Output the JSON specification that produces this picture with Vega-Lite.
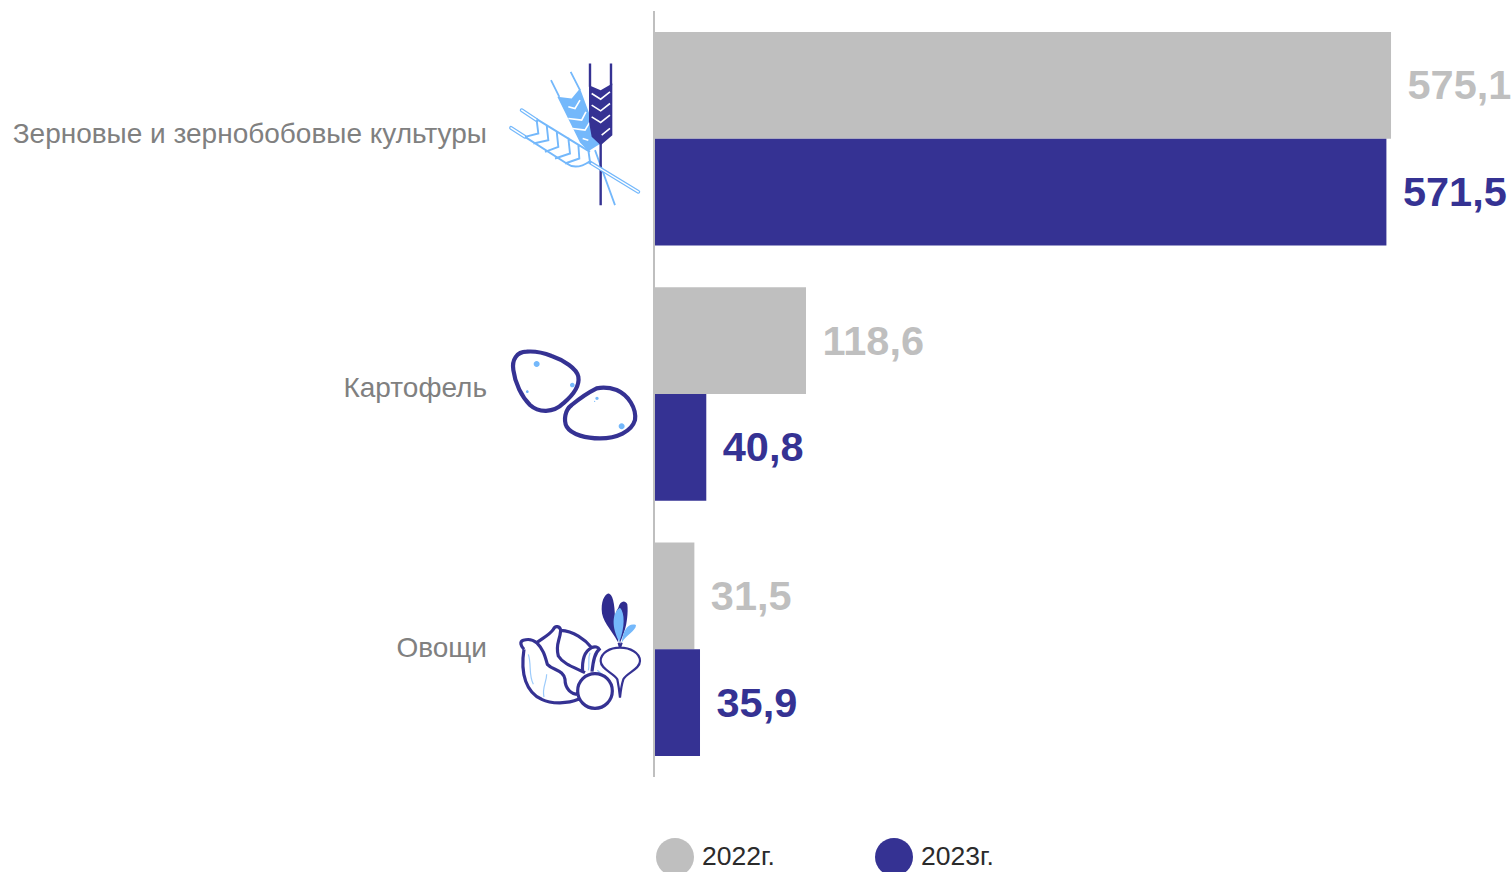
{
"$schema":"https://vega.github.io/schema/vega-lite/v6.json",
"width":858,"height":766,
"autosize":{"type":"none"},
"padding":{"left":654,"top":11,"right":0,"bottom":95},
"background":"white",
"config":{"view":{"stroke":null},"font":"Liberation Sans","locale":{"number":{"decimal":",","thousands":" ","grouping":[3],"currency":["",""]}}},
"datasets":{
"vals":[
{"crop":"Зерновые и зернобобовые культуры","year":"2022г.","value":575.1},
{"crop":"Зерновые и зернобобовые культуры","year":"2023г.","value":571.5},
{"crop":"Картофель","year":"2022г.","value":118.6},
{"crop":"Картофель","year":"2023г.","value":40.8},
{"crop":"Овощи","year":"2022г.","value":31.5},
{"crop":"Овощи","year":"2023г.","value":35.9}],
"wheat":[{"crop":"Зерновые и зернобобовые культуры"}],
"potato":[{"crop":"Картофель"}],
"veg":[{"crop":"Овощи"}]
},
"data":{"name":"vals"},
"layer":[
{"mark":{"type":"bar","cornerRadius":0},
"encoding":{
"x":{"field":"value","type":"quantitative","scale":{"domain":[0,669.5],"nice":false,"zero":true},"axis":null},
"y":{"field":"crop","type":"nominal","sort":null,"scale":{"domain":["Зерновые и зернобобовые культуры","Картофель","Овощи"],"paddingInner":0.164,"paddingOuter":0.082},
"axis":{"title":null,"domain":true,"domainColor":"#BFBFBF","domainWidth":2,"translate":0,"ticks":false,"labelPadding":167,"labelFontSize":28,"labelColor":"#808080","labelFont":"Liberation Sans","labelLimit":700,"zindex":1,"labelOffset":{"condition":[{"test":"datum.value==='Картофель'","value":-5},{"test":"datum.value==='Овощи'","value":0}],"value":-3}}},
"yOffset":{"field":"year","type":"nominal","scale":{"paddingInner":0,"paddingOuter":0}},
"color":{"field":"year","type":"nominal","scale":{"domain":["2022г.","2023г."],"range":["#BFBFBF","#353293"]},
"legend":{"title":null,"orient":"none","legendX":2,"legendY":827,"direction":"horizontal","symbolType":"circle","symbolSize":1444,"symbolStrokeWidth":0,"labelFontSize":26.5,"labelColor":"#2B2B2B","labelFont":"Liberation Sans","columnPadding":100,"labelOffset":8,"padding":0}}
}},
{"mark":{"type":"text","align":"left","baseline":"middle","dx":16.5,"dy":2,"fontSize":41.5,"fontWeight":"bold","font":"Liberation Sans"},
"encoding":{
"x":{"field":"value","type":"quantitative"},
"y":{"field":"crop","type":"nominal","sort":null},
"yOffset":{"field":"year","type":"nominal"},
"text":{"field":"value","type":"quantitative","format":".1f"},
"color":{"field":"year","type":"nominal"}
}},
{"data":{"name":"wheat"},"encoding":{"x":{"datum":0,"type":"quantitative"},"y":{"field":"crop","type":"nominal","sort":null}},
"layer":[
{"mark":{"type":"point","opacity":1,"filled":false,"stroke":"#74B8FB","strokeWidth":1.8,"size":0.4444,"xOffset":-154,"yOffset":-83.5,"shape":"M153 75L178 125M212 50L240 105M285 285L345 450"}},
{"mark":{"type":"point","opacity":1,"filled":true,"fill":"#74B8FB","stroke":null,"size":0.4444,"xOffset":-154,"yOffset":-83.5,"shape":"M172 125L215 130L240 100L290 235L302 265L265 288L240 262Z"}},
{"mark":{"type":"point","opacity":1,"filled":false,"stroke":"#FFFFFF","strokeWidth":1.6,"size":0.4444,"xOffset":-154,"yOffset":-83.5,"shape":"M205 155L225 160L240 135M205 190L245 195L258 170M218 220L255 225L270 200M248 250L265 255"}},
{"mark":{"type":"point","opacity":1,"filled":false,"stroke":"#353293","strokeWidth":2.4,"size":0.4444,"xOffset":-154,"yOffset":-83.5,"shape":"M270 25L270 95M333 25L333 90M302 265L302 450"}},
{"mark":{"type":"point","opacity":1,"filled":true,"fill":"#353293","stroke":null,"size":0.4444,"xOffset":-154,"yOffset":-83.5,"shape":"M267 90L302 105L337 85L337 240L302 270L275 245L267 200Z"}},
{"mark":{"type":"point","opacity":1,"filled":false,"stroke":"#FFFFFF","strokeWidth":1.6,"size":0.4444,"xOffset":-154,"yOffset":-83.5,"shape":"M275 115L302 132L330 110M275 150L302 167L330 145M275 185L302 202L330 180M305 240L330 220"}},
{"mark":{"type":"point","opacity":1,"filled":false,"stroke":"#74B8FB","strokeWidth":3.8,"strokeCap":"round","size":0.4444,"xOffset":-154,"yOffset":-83.5,"shape":"M65 165L110 195M33 218L75 245M270 322L415 410"}},
{"mark":{"type":"point","opacity":1,"filled":false,"stroke":"#FFFFFF","strokeWidth":1.4,"strokeCap":"round","size":0.4444,"xOffset":-154,"yOffset":-83.5,"shape":"M65 165L110 195M33 218L75 245M275 325L415 410"}},
{"mark":{"type":"point","opacity":1,"filled":false,"stroke":"#74B8FB","strokeWidth":1.9,"size":0.4444,"xOffset":-154,"yOffset":-83.5,"shape":"M110 192L270 290M75 245L200 325C220 340 245 335 270 318M110 195L115 235L75 245M140 210L145 255L100 265M170 228L175 275L135 290M205 248L210 295L165 310M235 268L238 310L195 325M265 285L270 320"}}
]},
{"data":{"name":"potato"},"encoding":{"x":{"datum":0,"type":"quantitative"},"y":{"field":"crop","type":"nominal","sort":null}},
"layer":[
{"mark":{"type":"point","opacity":1,"filled":false,"stroke":"#353293","strokeWidth":4.2,"size":0.4444,"xOffset":-154,"yOffset":-54,"shape":"M80 35C50 35 35 60 40 90C45 130 65 170 90 195C115 218 160 220 190 190C220 165 240 140 235 110C230 85 190 60 155 48C130 38 105 33 80 35ZM290 145C270 155 245 170 215 195C195 210 190 240 200 260C215 285 260 295 300 295C350 295 395 275 405 240C410 205 385 165 350 150C330 143 305 142 290 145Z"}},
{"mark":{"type":"point","opacity":1,"filled":true,"fill":"#74B8FB","stroke":null,"size":0.4444,"xOffset":-154,"yOffset":-54,"shape":"M101 72a9 9 0 1 0 18 0a9 9 0 1 0 -18 0ZM210 135a7 7 0 1 0 14 0a7 7 0 1 0 -14 0ZM78 155a4 4 0 1 0 8 0a4 4 0 1 0 -8 0ZM286 175a5 5 0 1 0 10 0a5 5 0 1 0 -10 0ZM282 184a2 2 0 1 0 4 0a2 2 0 1 0 -4 0ZM356 259a9 9 0 1 0 18 0a9 9 0 1 0 -18 0Z"}}
]},
{"data":{"name":"veg"},"encoding":{"x":{"datum":0,"type":"quantitative"},"y":{"field":"crop","type":"nominal","sort":null}},
"layer":[
{"mark":{"type":"point","opacity":1,"filled":false,"stroke":"#9CCBFB","strokeWidth":1.2,"size":0.4444,"xOffset":-144,"yOffset":-65,"shape":"M55 210C65 240 55 270 70 300M110 270C110 295 95 310 102 338M240 205C232 225 240 240 235 258M262 258L300 290"}},
{"mark":{"type":"point","opacity":1,"filled":false,"stroke":"#353293","strokeWidth":3.2,"size":0.4444,"xOffset":-144,"yOffset":-65,"shape":"M42 195C32 185 28 172 40 168C55 163 70 167 80 175C100 160 118 152 130 135C135 122 150 125 152 138C190 140 225 165 245 190C255 185 265 188 268 195C255 205 250 225 246 262M42 195C30 270 50 325 95 345C125 360 175 358 205 345M80 175C100 195 105 215 112 240C130 260 160 255 165 285C165 315 185 330 205 330M152 138C150 170 135 180 145 215C160 240 195 250 225 265M245 190C225 200 215 225 218 265M203 320a52 52 0 1 0 104 0a52 52 0 1 0 -104 0Z"}},
{"mark":{"type":"point","opacity":1,"filled":false,"stroke":"#353293","strokeWidth":2.2,"size":0.4444,"xOffset":-144,"yOffset":-65,"shape":"M330 190C300 190 272 205 272 230C272 255 310 265 322 285C325 300 328 320 330 340C332 320 335 300 340 285C350 265 390 255 390 230C390 205 360 190 330 190ZM326 175L330 190M335 175L330 190"}},
{"mark":{"type":"point","opacity":1,"filled":true,"fill":"#2F2C8F","stroke":null,"size":0.4444,"xOffset":-144,"yOffset":-65,"shape":"M325 175C300 130 275 110 275 75C275 40 290 25 298 28C312 35 315 75 315 110C315 135 325 155 325 175ZM330 175C315 130 310 90 325 70C330 50 345 45 352 60C355 85 350 120 345 135C340 150 335 165 330 175Z"}},
{"mark":{"type":"point","opacity":1,"filled":true,"fill":"#74B8FB","stroke":null,"size":0.4444,"xOffset":-144,"yOffset":-65,"shape":"M328 172C305 130 305 85 330 70C345 85 345 130 328 172ZM335 175C340 135 355 115 378 122C378 140 350 150 335 175Z"}}
]}
]
}
